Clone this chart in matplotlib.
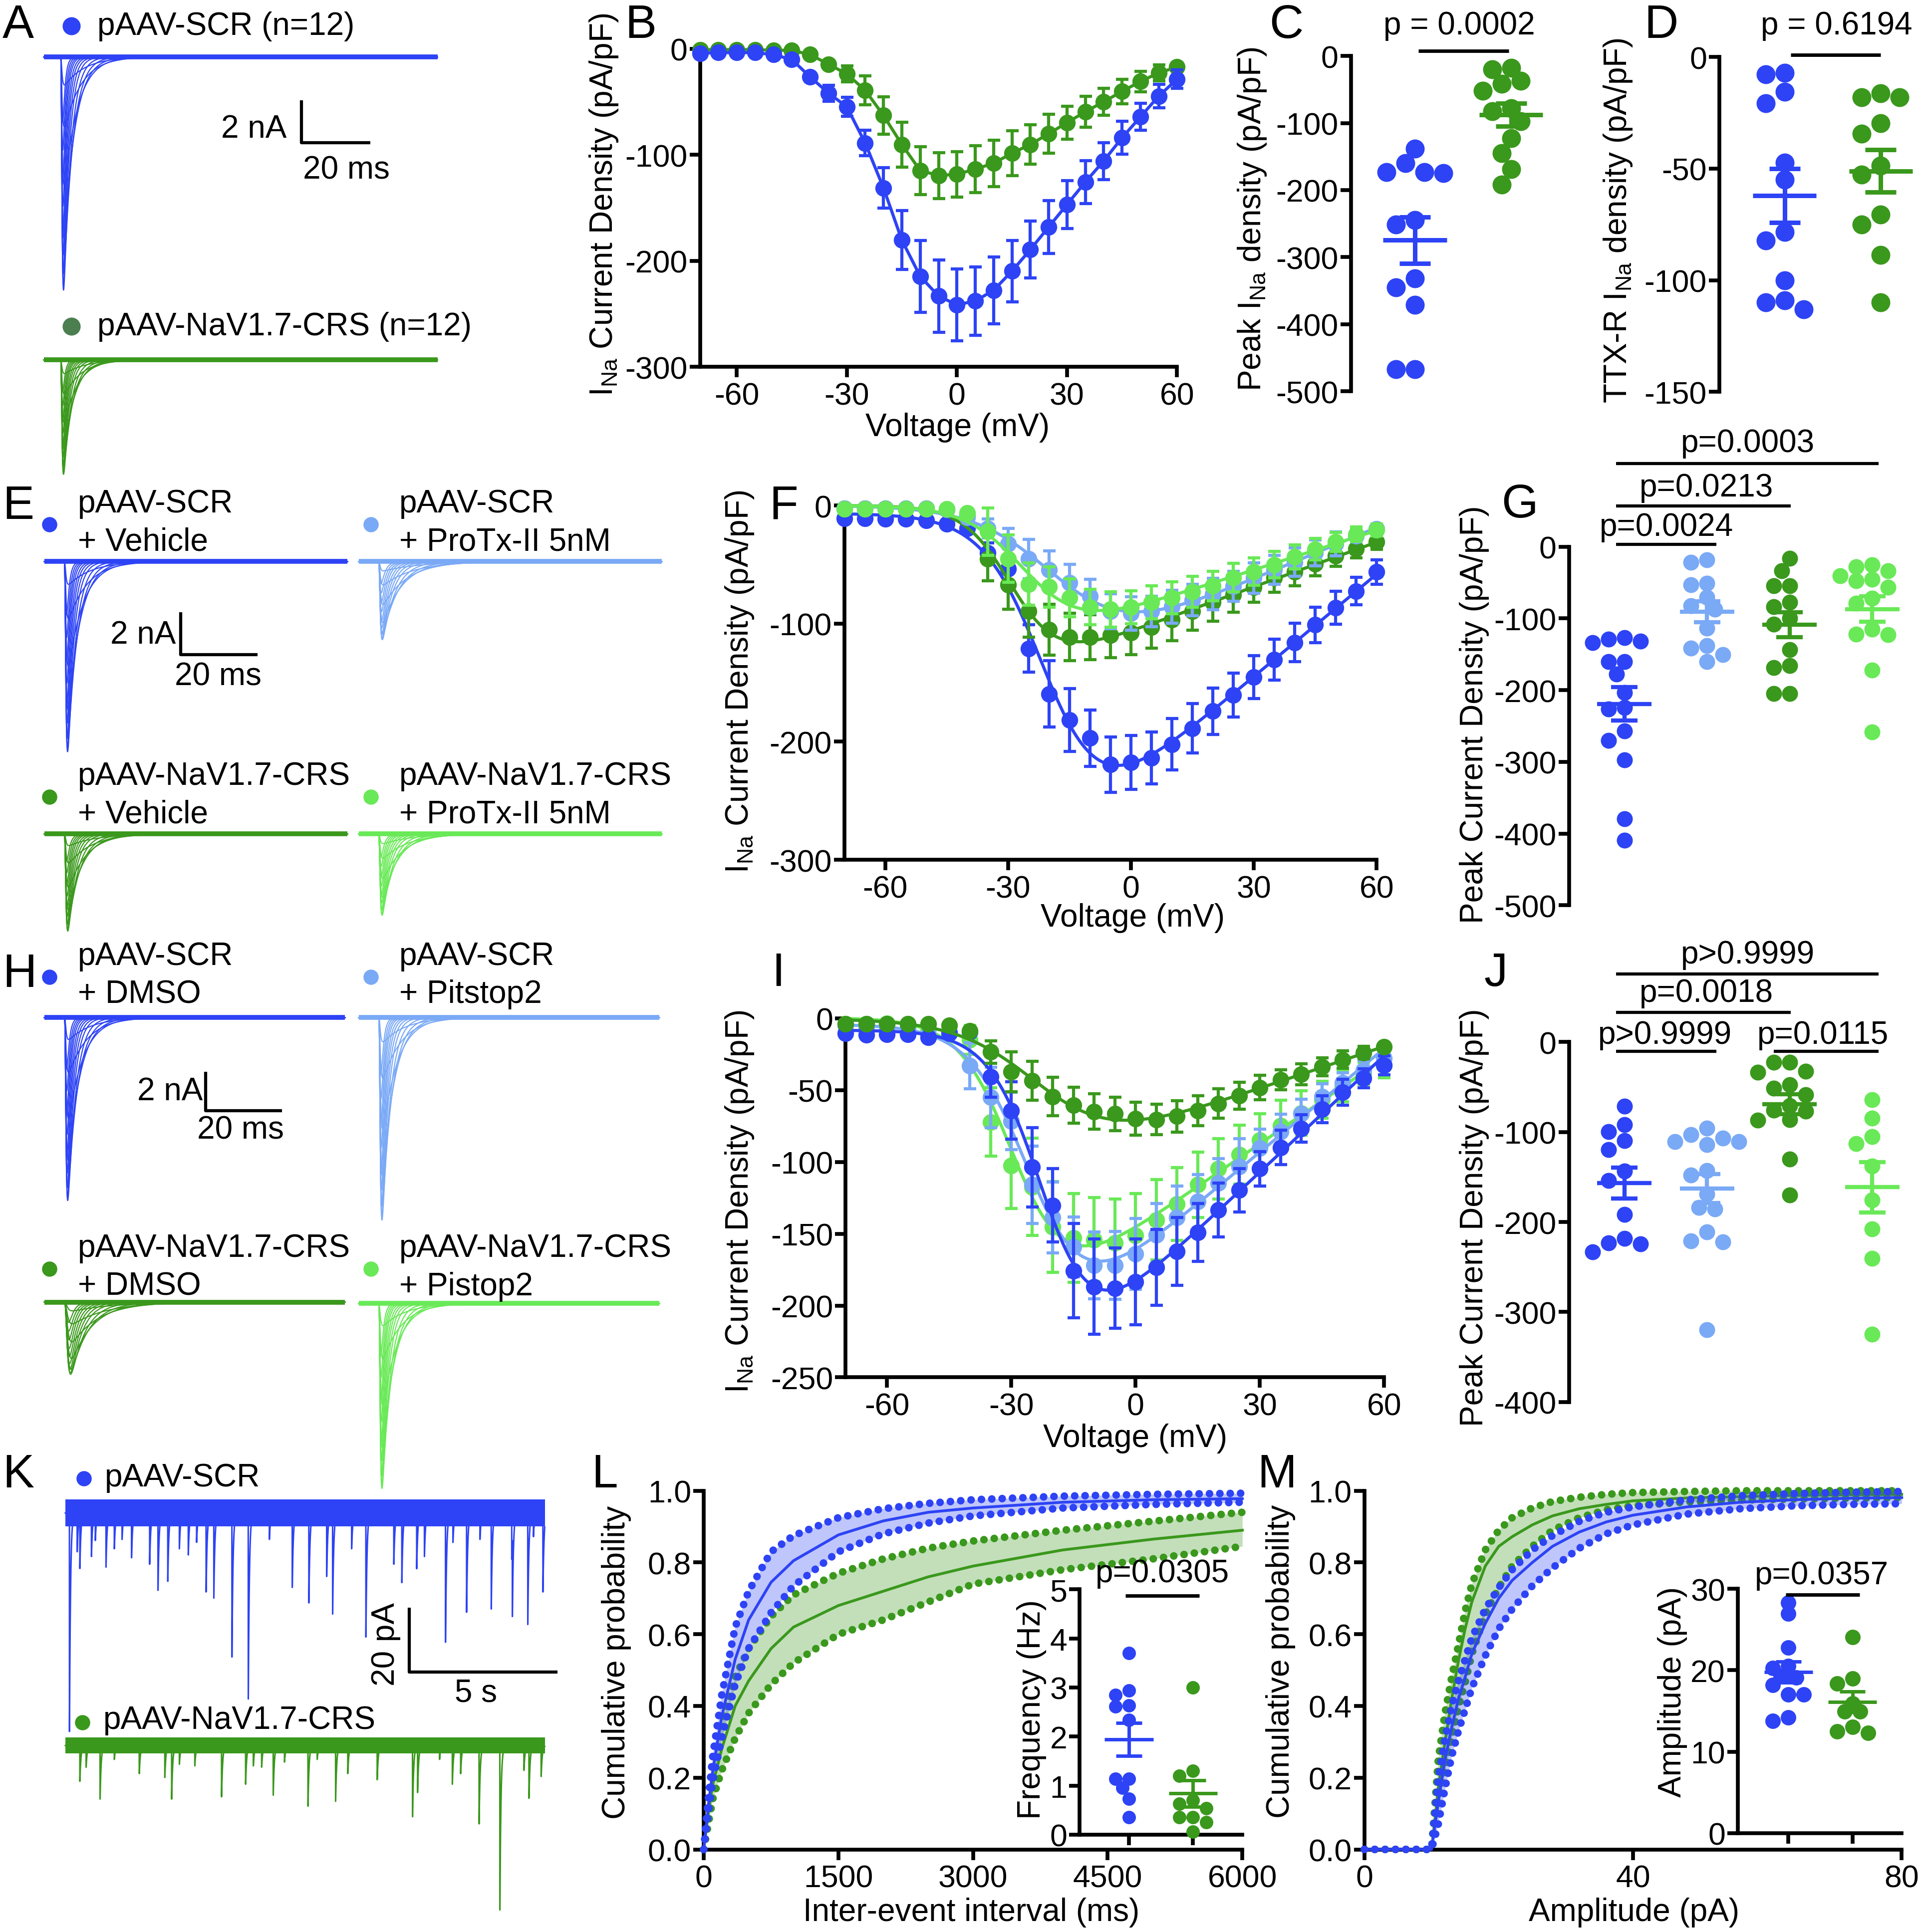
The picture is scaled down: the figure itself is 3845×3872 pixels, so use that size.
import numpy as np
import matplotlib
matplotlib.use("Agg")
import matplotlib.pyplot as plt
from matplotlib.lines import Line2D

plt.rcParams['font.family'] = ['Liberation Sans', 'DejaVu Sans']
plt.rcParams['mathtext.fontset'] = 'custom'
plt.rcParams['mathtext.rm'] = 'Liberation Sans'
plt.rcParams['mathtext.it'] = 'Liberation Sans:italic'
plt.rcParams['mathtext.bf'] = 'Liberation Sans:bold'
plt.rcParams['axes.unicode_minus'] = False

BLUE = '#2D43F5'
LBLUE = '#7AA9F6'
GREEN = '#3A981C'
LGREEN = '#69E957'
DOTGREEN_A = '#4B7F50'

# ======================= DATA =======================
VOLT = [-70, -65, -60, -55, -50, -45, -40, -35, -30, -25, -20, -15, -10, -5,
        0, 5, 10, 15, 20, 25, 30, 35, 40, 45, 50, 55, 60]

# Panel B (pA/pF)
B_SCR = [-4.1, -3.6, -3.6, -3.6, -5.5, -10.1, -26.5, -41.8, -54.7, -88.9, -131.3, -180.5, -214.7, -233.3,
         -241.5, -238, -227.8, -209.8, -189.5, -168.2, -146.9, -125.8, -105.8, -84, -64.3, -44.6, -28.7]
B_SCR_SEM = [1, 1, 1, 1, 1, 1.5, 3, 7.5, 9, 11.9, 19.1, 27.8, 33.8, 34.2,
             33.9, 32.1, 31.5, 29.1, 26.9, 24.9, 22.6, 20.2, 17.4, 15.5, 12.7, 10.9, 8.8]
B_CRS = [-0.8, -0.8, -0.8, -0.8, -1.4, -1.4, -5.5, -14.5, -23.8, -39.1, -62.9, -90.3, -114.9, -119.5,
         -118.4, -113.5, -108, -98.5, -90.3, -80.1, -69.7, -59.4, -50, -40.2, -30.9, -22.7, -17.2]
B_CRS_SEM = [0.5, 0.5, 0.5, 0.5, 0.5, 0.5, 1.5, 3, 7.5, 13.7, 17.5, 21.2, 22.7, 21.6,
             21.3, 22.2, 21.9, 21, 18.6, 18.5, 15.7, 14.8, 12.7, 11.6, 9.8, 7.5, 4]

# Panel C / D (pA/pF)
C_SCR = [-138.5, -160, -173, -175, -173, -245, -251, -332, -345, -371, -467, -467]
C_CRS = [-19.7, -17.5, -37, -41.5, -51.7, -78, -82.5, -97.5, -123, -145, -169, -191.5]
D_SCR = [-7.9, -7.1, -15.6, -20.8, -47.4, -54.9, -78.5, -82.3, -100, -109, -109.9, -113]
D_CRS = [-18.1, -18.1, -16.3, -29.7, -34.4, -48.7, -52.8, -70.5, -75, -88.8, -109.9]

# Panel F (pA/pF)
F_SCR_VEH = [-11, -11, -11.5, -11.5, -12.8, -15.4, -19.2, -40.2, -53.8, -121, -159.5, -181.8, -197, -219.4,
             -217.6, -213.8, -202.2, -188.7, -174.1, -160.5, -145.2, -130.6, -116, -101.1, -86.5, -72.4, -56.3]
F_SCR_VEH_SEM = [2, 2, 2, 2, 2, 2, 2.5, 8.7, 9.9, 20, 28, 26.6, 24, 23.4,
                 22.9, 22, 21.8, 20.9, 19.7, 18.6, 18.2, 17.3, 16.3, 15, 14, 11.5, 10.4]
F_SCR_PTX = [-2.6, -2.6, -2.6, -2.6, -2.6, -3.3, -10.2, -19.2, -32.5, -45.3, -54.5, -65.3, -76.8, -89.6,
             -91.4, -89.6, -85.8, -80.1, -75, -68.4, -61.4, -54.5, -47.9, -40.2, -32.5, -25.6, -19.7]
F_SCR_PTX_SEM = [1.5, 1.5, 1.5, 1.5, 1.5, 1.5, 3, 8, 13, 16.6, 16, 15.6, 14.3, 14.7,
                 14, 12.8, 14, 13.4, 13.4, 12.8, 12.8, 12.2, 12, 11, 10, 5, 3]
F_CRS_VEH = [-2.6, -2.6, -2.6, -2.6, -2.6, -3.3, -7.7, -45.3, -67.3, -89.6, -105, -111.4, -111.4, -110,
             -107.5, -103.2, -96.5, -89.6, -81.9, -75.5, -69.1, -61.4, -56.3, -49.4, -42.8, -36.6, -30.7]
F_CRS_VEH_SEM = [1.5, 1.5, 1.5, 1.5, 1.5, 1.5, 3, 18.6, 20.5, 21.8, 21.5, 20, 19, 19,
                 18.8, 17.7, 18, 16, 16, 14.7, 12.8, 12.2, 11.5, 10.2, 8.7, 7.7, 6.4]
F_CRS_PTX = [-3, -3, -3, -3, -3, -3, -6.4, -22, -45, -66.6, -69, -78, -86, -88,
             -86, -82, -78, -73, -68, -61, -56, -50, -43.5, -37, -30.7, -24.3, -20.5]
F_CRS_PTX_SEM = [1.5, 1.5, 1.5, 1.5, 1.5, 1.5, 3, 20, 20, 18, 17, 16, 15, 15,
                 14, 14, 13.5, 13, 12.5, 12, 11.5, 11, 10, 9, 8, 6, 5]

# Panel G (pA/pF)
G_SCR_VEH = [-132, -128.8, -126.5, -133.5, -160.5, -160.5, -177.7, -203.2, -224.2, -226.5, -256.7,
             -269.8, -297.2, -379, -409.3]
G_SCR_PTX = [-21.9, -18.6, -53, -51.2, -70.7, -82.3, -87, -113.5, -138.1, -141.4, -150.7, -160.5]
G_CRS_VEH = [-16.3, -33.5, -54.4, -54.4, -77.7, -83.7, -99.5, -107.9, -143.7, -168.4, -166, -204.6, -204.6]
G_CRS_PTX = [-27.9, -40.5, -33.5, -25.1, -45.1, -56.7, -47.4, -71.6, -79.1, -114.9, -122.8, -121.9,
             -172.1, -258.1]

# Panel I (pA/pF)
I_SCR_DMSO = [-10.6, -11.7, -11.1, -11.1, -13.3, -10.6, -9.5, -40.6, -64.3, -103.7, -130.3, -175.7, -186.8,
              -187.9, -183.5, -173.5, -162.4, -149.1, -133.6, -119.7, -104.8, -90, -76.7, -63.4, -51.6, -41.7,
              -32.8]
I_SCR_DMSO_SEM = [2, 2, 2, 2, 2, 2, 2, 14.4, 20, 27.7, 25.5, 32.7, 33.2, 28,
                  29.9, 26.4, 23.6, 20.2, 18.8, 15, 11.9, 12, 9.6, 9.3, 9, 6.6, 6.6]
I_SCR_PIT = [-5.1, -6.2, -7.3, -7.3, -11.7, -9.5, -33.2, -55, -71.6, -115.9, -138.7, -159.1, -172, -172,
             -164, -150.7, -138.7, -127.6, -114.8, -103.3, -90.4, -78.9, -66.5, -54.5, -45, -36.1, -27.9]
I_SCR_PIT_SEM = [2, 2, 2, 2, 2, 2, 16, 21, 20, 27, 24.6, 20.8, 23.3, 23.6,
                 24.6, 21.6, 22, 18.8, 17.2, 19.4, 13.3, 12.2, 10.2, 8.9, 7.2, 6.4, 5.9]
I_CRS_DMSO = [-4, -4, -4, -4, -4, -5.1, -8.9, -23.5, -37.2, -43.4, -54.5, -60.5, -64.9, -66.5,
              -70, -70.5, -68.3, -64.3, -59.4, -53.8, -48.3, -42.8, -39, -33.9, -28.8, -23.9, -19.9]
I_CRS_DMSO_SEM = [1.5, 1.5, 1.5, 1.5, 1.5, 1.5, 1.5, 7.8, 13.8, 13.6, 13.3, 12.6, 12.4, 11.6,
                  11.4, 10.6, 10.9, 10.5, 10.2, 9.4, 8.5, 7, 7.2, 6.3, 6.1, 4.4, 2.8]
I_CRS_PIT = [-4, -4, -3.5, -4, -7.3, -10.6, -15.1, -72.2, -102.6, -117.4, -145.4, -152.9, -154.2, -156.5,
             -151.3, -140.3, -129.2, -115.9, -104.8, -94.8, -84.9, -74.9, -66, -56.7, -47.2, -38.3, -32.8]
I_CRS_PIT_SEM = [2, 2, 2, 2, 2, 2, 10, 23.8, 29.7, 33.8, 31.6, 31, 29.4, 30.7,
                 29.4, 27.9, 25.3, 22.7, 21, 20.5, 18.6, 17.7, 15.5, 12.7, 11, 7.8, 8.5]

# Panel J (pA/pF)
J_SCR_DMSO = [-71.6, -92, -99.5, -109.5, -119.9, -143.2, -154, -191.5, -218.2, -223, -224.5, -233]
J_SCR_PIT = [-95.7, -103.2, -110.6, -110.6, -106.9, -114.3, -142.9, -147.7, -168.8, -183.7, -185.6,
             -210.8, -220.8, -221.9, -319.5]
J_CRS_DMSO = [-22.6, -22.6, -33.8, -32.7, -47.5, -51.2, -58.6, -76.1, -70.9, -77.2, -86.5, -87.2,
              -130.3, -170]
J_CRS_PIT = [-64.2, -84.6, -105, -113.2, -137.7, -175.5, -207.8, -240.5, -324.7]

# Example current families (A, E, H): relative sweep amplitudes and inactivation taus (ms)
SWEEP_REL = [0.12, 0.3, 0.55, 0.78, 0.93, 1.0, 0.98, 0.93, 0.85, 0.75, 0.64, 0.52, 0.4, 0.28]
SWEEP_TAU = [6.0, 5.0, 4.0, 3.2, 2.6, 2.1, 1.7, 1.45, 1.25, 1.1, 0.95, 0.85, 0.75, 0.65]
PEAK_A = [11.0, 5.4]                 # nA: SCR, NaV1.7-CRS
PEAK_E = [9.0, 3.7, 4.6, 3.85]       # nA: SCR+Veh, SCR+ProTx, CRS+Veh, CRS+ProTx
TAUSCALE_E = [1.0, 1.6, 1.2, 1.3]
PEAK_H = [9.4, 10.4, 3.7, 9.5]       # nA: SCR+DMSO, SCR+Pitstop2, CRS+DMSO, CRS+Pistop2
TAUSCALE_H = [1.0, 1.0, 1.8, 1.0]
TAUM_H = [0.25, 0.25, 0.5, 0.25]

# Panel K: sEPSC events (time s, amplitude pA)
K_SCR_T = [0.14, 0.40, 0.49, 0.88, 1.01, 1.37, 1.65, 1.91, 2.23, 2.84, 3.12, 3.45, 3.84, 4.14, 4.42, 4.74,
           5.00, 5.61, 6.16, 6.87, 7.64, 8.20, 8.80, 9.00, 9.64, 10.12, 11.06, 11.33, 11.83, 12.09, 12.80,
           13.05, 13.51, 13.96, 14.34, 15.03, 15.05, 15.57, 15.76, 16.08]
K_SCR_A = [67.8, 12, 16.3, 13.5, 8.2, 16.8, 11.1, 8.2, 13.9, 15.9, 24, 21.2, 11.1, 13, 9.1, 24.5,
           26.4, 44.7, 57.7, 8.2, 23.1, 27.9, 19.7, 31.3, 11.1, 38.5, 15.9, 21.6, 17.3, 13.5, 40.1,
           9.1, 30.8, 8.2, 29.8, 14.4, 24, 34.6, 7.2, 24.5]
K_CRS_T = [0.49, 0.70, 1.17, 1.65, 2.49, 3.35, 3.58, 3.84, 4.36, 5.26, 6.07, 6.33, 6.61, 7.00, 7.38,
           8.17, 8.48, 9.10, 9.51, 10.50, 11.69, 11.86, 12.60, 13.03, 13.31, 13.93, 14.63, 15.44, 15.61, 16.02]
K_CRS_A = [11.1, 6.7, 16.6, 4.3, 8.7, 9.9, 16.6, 5.8, 6.3, 15.9, 12, 6.3, 6.7, 15.4, 5.1,
           18.8, 4.3, 17.3, 8.7, 10.6, 22.1, 14.4, 4.3, 12, 8.7, 24.3, 51, 7.7, 16.3, 9.6]

# Panel L: cumulative probability of inter-event interval (ms)
L_X = [0, 50, 100, 200, 350, 500, 750, 1000, 1500, 2000, 2500, 3000, 4000, 5000, 6000]
L_SCR_MEAN = [0, 0.12, 0.22, 0.37, 0.53, 0.64, 0.745, 0.805, 0.877, 0.916, 0.94, 0.952, 0.968, 0.975, 0.978]
L_SCR_HI = [0, 0.14, 0.26, 0.43, 0.62, 0.72, 0.83, 0.875, 0.925, 0.95, 0.965, 0.975, 0.985, 0.99, 0.993]
L_SCR_LO = [0, 0.10, 0.19, 0.31, 0.46, 0.56, 0.66, 0.735, 0.83, 0.88, 0.91, 0.93, 0.952, 0.962, 0.968]
L_CRS_MEAN = [0, 0.10, 0.18, 0.28, 0.40, 0.47, 0.56, 0.62, 0.68, 0.72, 0.76, 0.79, 0.835, 0.865, 0.89]
L_CRS_HI = [0, 0.12, 0.22, 0.35, 0.48, 0.56, 0.65, 0.71, 0.77, 0.81, 0.84, 0.86, 0.89, 0.915, 0.94]
L_CRS_LO = [0, 0.07, 0.14, 0.22, 0.31, 0.38, 0.46, 0.52, 0.60, 0.64, 0.69, 0.74, 0.78, 0.81, 0.845]
FREQ_SCR = [3.70, 2.85, 2.94, 2.61, 2.63, 2.34, 1.14, 1.14, 0.95, 0.73, 0.35]
FREQ_CRS = [3.0, 1.30, 1.2, 0.70, 0.63, 0.54, 0.35, 0.35, 0.25, 0.06]

# Panel M: cumulative probability of amplitude (pA)
M_X = [0, 10, 11, 12, 13, 14, 15, 16, 18, 20, 22, 25, 28, 32, 36, 40, 48, 56, 64, 72, 80]
M_SCR_MEAN = [0, 0, 0.13, 0.25, 0.34, 0.42, 0.48, 0.545, 0.63, 0.70, 0.75, 0.80, 0.845, 0.885, 0.913,
              0.932, 0.955, 0.968, 0.975, 0.979, 0.981]
M_SCR_HI = [0, 0, 0.20, 0.31, 0.40, 0.47, 0.53, 0.59, 0.67, 0.73, 0.78, 0.835, 0.875, 0.915, 0.94,
            0.955, 0.975, 0.986, 0.992, 0.996, 0.998]
M_SCR_LO = [0, 0, 0.07, 0.17, 0.26, 0.33, 0.39, 0.45, 0.54, 0.615, 0.67, 0.735, 0.785, 0.84, 0.88,
            0.905, 0.935, 0.95, 0.958, 0.962, 0.964]
M_CRS_MEAN = [0, 0, 0.17, 0.30, 0.42, 0.525, 0.615, 0.69, 0.79, 0.845, 0.872, 0.905, 0.93, 0.95, 0.962,
              0.972, 0.98, 0.984, 0.987, 0.989, 0.99]
M_CRS_HI = [0, 0, 0.25, 0.38, 0.48, 0.57, 0.665, 0.74, 0.835, 0.89, 0.925, 0.952, 0.97, 0.982, 0.99,
            0.995, 0.998, 1.0, 1.0, 1.0, 1.0]
M_CRS_LO = [0, 0, 0.12, 0.22, 0.31, 0.395, 0.465, 0.545, 0.655, 0.73, 0.79, 0.845, 0.89, 0.925, 0.947,
            0.958, 0.969, 0.974, 0.977, 0.979, 0.981]
AMP_SCR = [28.3, 26.95, 22.8, 20.3, 20.5, 19.3, 19.1, 18.2, 17.05, 17.05, 13.8, 14.2]
AMP_CRS = [24.1, 18.4, 18.96, 15.9, 14.96, 14.96, 13.06, 12.3, 12.5]

# ======================= LAYOUT HELPERS =======================
RW, RH = 1557.0, 1568.0
FS = 46      # text
FT = 45      # tick labels
FL = 68      # panel letters
LWA = 5.5    # axis line width

fig = plt.figure(figsize=(38.45, 38.73), dpi=100)
fig.patch.set_facecolor('white')


def X(x):
    return x / RW


def Y(y):
    return 1.0 - y / RH


def box(x0, y0, x1, y1):
    ax = fig.add_axes([X(x0), Y(y1), (x1 - x0) / RW, (y1 - y0) / RH])
    ax.patch.set_visible(False)
    return ax


def ftext(x, y, s, size=FS, ha='center', va='center', **kw):
    fig.text(X(x), Y(y), s, fontsize=size, ha=ha, va=va, **kw)


def fline(xs, ys, lw=4.5, color='black'):
    fig.add_artist(Line2D([X(v) for v in xs], [Y(v) for v in ys], transform=fig.transFigure,
                          color=color, lw=lw, solid_capstyle='butt'))


def fdot(x, y, color, ms=24):
    fig.add_artist(Line2D([X(x)], [Y(y)], transform=fig.transFigure, marker='o', ms=ms,
                          color=color, mec='none', ls='none'))


def style_ax(ax, bottom=True):
    for s in ('top', 'right'):
        ax.spines[s].set_visible(False)
    for s in ('left', 'bottom'):
        ax.spines[s].set_linewidth(LWA)
        ax.spines[s].set_capstyle('projecting')
    ax.tick_params(axis='both', direction='out', length=15, width=LWA, labelsize=FT, color='black')
    ax.tick_params(axis='y', pad=3)
    ax.tick_params(axis='x', pad=6)
    if not bottom:
        ax.spines['bottom'].set_visible(False)
        ax.tick_params(axis='x', bottom=False, labelbottom=False)


def iv_fit(v, i):
    v = np.asarray(v, float)
    i = np.asarray(i, float)
    best = None
    for v50 in np.arange(-50.0, 0.01, 0.5):
        for k in np.arange(2.0, 15.01, 0.25):
            s = 1.0 / (1.0 + np.exp((v50 - v) / k))
            A = np.column_stack([v * s, s, np.ones_like(v)])
            coef = np.linalg.lstsq(A, i, rcond=None)[0]
            r = np.sum((A @ coef - i) ** 2)
            if best is None or r < best[0]:
                best = (r, v50, k, coef)
    _, v50, k, coef = best
    vv = np.linspace(v.min(), v.max(), 400)
    s = 1.0 / (1.0 + np.exp((v50 - vv) / k))
    return vv, coef[0] * vv * s + coef[1] * s + coef[2]


def iv_series(ax, y, e, color, fit, z):
    if fit:
        vv, ff = iv_fit(VOLT, y)
        ax.plot(vv, ff, color=color, lw=4.5, zorder=z, clip_on=False)
        fmt = 'o'
    else:
        fmt = '-o'
    eb = ax.errorbar(VOLT, y, yerr=e, fmt=fmt, color=color, ms=24, mec='none', lw=4.5,
                     elinewidth=4.5, capsize=9, capthick=4.5, zorder=z)
    for art in eb.get_children():
        art.set_clip_on(False)


def swarm(ax, xc, vals, d, tol=0.85):
    vals = np.asarray(vals, float)
    pts = ax.transData.transform(np.column_stack([np.full(len(vals), float(xc)), vals]))
    cx = pts[0, 0]
    ys = pts[:, 1]
    order = np.argsort(-ys)
    cand = [0.0]
    for k in range(1, 40):
        cand += [-k * d / 2.0, k * d / 2.0]
    placed = []
    xs = np.empty(len(vals))
    for idx in order:
        chosen = 0.0
        for off in cand:
            if all((off - px) ** 2 + (ys[idx] - py) ** 2 >= (tol * d) ** 2 for px, py in placed):
                chosen = off
                break
        placed.append((chosen, ys[idx]))
        xs[idx] = cx + chosen
    inv = ax.transData.inverted()
    return inv.transform(np.column_stack([xs, ys]))[:, 0]


def dot_group(ax, xc, vals, color, d_px, mean_hw=0.33, cap_hw=0.16, lw=6, tol=0.85):
    vals = np.asarray(vals, float)
    xs = swarm(ax, xc, vals, d_px, tol)
    ax.scatter(xs, vals, s=(d_px * 0.72) ** 2, color=color, linewidths=0, zorder=3, clip_on=False)
    m = vals.mean()
    se = vals.std(ddof=1) / np.sqrt(len(vals))
    kw = dict(color=color, lw=lw, solid_capstyle='butt', zorder=4, clip_on=False)
    ax.plot([xc - mean_hw, xc + mean_hw], [m, m], **kw)
    ax.plot([xc, xc], [m - se, m + se], **kw)
    ax.plot([xc - cap_hw, xc + cap_hw], [m + se, m + se], **kw)
    ax.plot([xc - cap_hw, xc + cap_hw], [m - se, m - se], **kw)


def trace_ax(x0, x1, y_base, y_top, y_bot, px_per_t, px_per_a):
    ax = box(x0, y_top, x1, y_bot)
    ax.set_xlim(0, (x1 - x0) / px_per_t)
    ax.set_ylim(-(y_bot - y_base) / px_per_a, (y_base - y_top) / px_per_a)
    ax.axis('off')
    return ax


def na_family(ax, onset, peak, tau_scale, tau_m, color):
    tmax = ax.get_xlim()[1]
    t = np.linspace(0, tmax, 5000)
    tt = np.clip(t - onset, 0, None)
    for r, th in zip(SWEEP_REL, SWEEP_TAU):
        shape = (1 - np.exp(-tt / tau_m)) ** 3 * np.exp(-tt / (th * tau_scale))
        shape = shape / shape.max()
        ax.plot(t, -peak * r * shape, color=color, lw=1.6, clip_on=False)
    ax.plot([0, tmax], [0, 0], color=color, lw=7, solid_capstyle='butt', clip_on=False)


def event_trace(ax, times, amps, noise, color, tau=0.035):
    tmax = ax.get_xlim()[1]
    t = np.arange(0, tmax, 0.002)
    y = np.zeros_like(t)
    for ti, a in zip(times, amps):
        d = t - ti
        m = d >= 0
        y[m] -= a * np.exp(-d[m] / tau)
    ax.fill_between([0, tmax], [-noise, -noise], [noise, noise], color=color, lw=0)
    ax.plot(t, y, color=color, lw=2.2, clip_on=False)


def cdf_group(ax, x, lo, mid, hi, color, z):
    ax.fill_between(x, lo, hi, color=color, alpha=0.3, lw=0, zorder=z)
    ax.plot(x, mid, color=color, lw=4, zorder=z + 0.1, clip_on=False)
    for b in (lo, hi):
        ax.plot(x, b, color=color, lw=11, ls=(0, (0.01, 1.35)), dash_capstyle='round',
                zorder=z + 0.2, clip_on=False)


# ======================= PANEL LETTERS =======================
for s, x, y in [('A', 2, 21), ('B', 507, 21), ('C', 1030, 21), ('D', 1334, 21),
                ('E', 2, 411), ('F', 624, 411), ('G', 1218, 410),
                ('H', 2, 791), ('I', 626, 790), ('J', 1204, 790),
                ('K', 2, 1197), ('L', 480, 1197), ('M', 1020, 1197)]:
    ftext(x, y, s, size=FL, ha='left')

# ======================= PANEL A =======================
axA1 = trace_ax(35.6, 355, 46.6, 36, 242, 55.8 / 20, 34.4 / 2)
na_family(axA1, 4.9, PEAK_A[0], 1.0, 0.25, BLUE)
axA2 = trace_ax(35.6, 355, 292.4, 282, 392, 55.8 / 20, 34.4 / 2)
na_family(axA2, 4.9, PEAK_A[1], 1.0, 0.25, GREEN)
fdot(58, 21.5, BLUE, 26)
ftext(79, 21.5, 'pAAV-SCR (n=12)', ha='left')
fdot(58, 265, DOTGREEN_A, 26)
ftext(79, 265, 'pAAV-NaV1.7-CRS (n=12)', ha='left')
fline([244.5, 244.5, 300.3], [81.8, 116.2, 116.2])
ftext(232.5, 105, '2 nA', ha='right')
ftext(281, 138.3, '20 ms')

# ======================= PANEL E =======================
pxt_E, pxa_E = 62.6 / 20, 34.3 / 2
axE = [trace_ax(36, 282, 456, 446, 616, pxt_E, pxa_E),
       trace_ax(291, 537, 456, 446, 526, pxt_E, pxa_E),
       trace_ax(36, 282, 677, 667, 760, pxt_E, pxa_E),
       trace_ax(291, 537, 677, 667, 750, pxt_E, pxa_E)]
for ax, pk, ts, col in zip(axE, PEAK_E, TAUSCALE_E, [BLUE, LBLUE, GREEN, LGREEN]):
    na_family(ax, 5.2, pk, ts, 0.25, col)
for (dx, dy, col, l1, l2) in [(40, 426, BLUE, 'pAAV-SCR', '+ Vehicle'),
                               (301, 426, LBLUE, 'pAAV-SCR', '+ ProTx-II 5nM'),
                               (40, 647, GREEN, 'pAAV-NaV1.7-CRS', '+ Vehicle'),
                               (301, 647, LGREEN, 'pAAV-NaV1.7-CRS', '+ ProTx-II 5nM')]:
    fdot(dx, dy, col, 22)
    ftext(dx + 23, dy - 17, l1, ha='left')
    ftext(dx + 23, dy + 14, l2, ha='left')
fline([146.4, 146.4, 209], [497.3, 531.6, 531.6])
ftext(142.8, 515.5, '2 nA', ha='right')
ftext(177, 549, '20 ms')

# ======================= PANEL H =======================
pxt_H, pxa_H = 61.9 / 20, 31.6 / 2
axH = [trace_ax(36, 280, 826, 816, 980, pxt_H, pxa_H),
       trace_ax(291, 535, 826, 816, 995, pxt_H, pxa_H),
       trace_ax(36, 280, 1057, 1047, 1122, pxt_H, pxa_H),
       trace_ax(291, 535, 1058, 1048, 1212, pxt_H, pxa_H)]
for ax, pk, ts, tm, col in zip(axH, PEAK_H, TAUSCALE_H, TAUM_H, [BLUE, LBLUE, GREEN, LGREEN]):
    na_family(ax, 5.3, pk, ts, tm, col)
for (dx, dy, col, l1, l2) in [(40, 793, BLUE, 'pAAV-SCR', '+ DMSO'),
                               (301, 793, LBLUE, 'pAAV-SCR', '+ Pitstop2'),
                               (40, 1030, GREEN, 'pAAV-NaV1.7-CRS', '+ DMSO'),
                               (301, 1030, LGREEN, 'pAAV-NaV1.7-CRS', '+ Pistop2')]:
    fdot(dx, dy, col, 22)
    ftext(dx + 23, dy - 17, l1, ha='left')
    ftext(dx + 23, dy + 14, l2, ha='left')
fline([167, 167, 228.9], [870, 901.6, 901.6])
ftext(164.5, 886, '2 nA', ha='right')
ftext(195, 917, '20 ms')

# ======================= PANEL K =======================
axK1 = trace_ax(53, 442, 1228, 1205, 1410, 24.1, 2.615)
event_trace(axK1, K_SCR_T, K_SCR_A, 4.2, BLUE)
axK2 = trace_ax(53, 442, 1416.7, 1400, 1555, 24.1, 2.615)
event_trace(axK2, K_CRS_T, K_CRS_A, 2.5, GREEN)
fdot(68, 1200, BLUE, 22)
ftext(85, 1199, 'pAAV-SCR', ha='left')
fdot(67, 1398, GREEN, 22)
ftext(84, 1396, 'pAAV-NaV1.7-CRS', ha='left')
fline([332, 332, 452.5], [1304.9, 1357.2, 1357.2])
ftext(313, 1334, '20 pA', rotation=90)
ftext(386, 1374, '5 s')

# ======================= PANEL B =======================
axB = box(568, 40, 955, 298)
style_ax(axB)
axB.set_xlim(-70, 60)
axB.set_ylim(-300, 0)
iv_series(axB, B_CRS, B_CRS_SEM, GREEN, False, 3)
iv_series(axB, B_SCR, B_SCR_SEM, BLUE, False, 4)
axB.set_xticks([-60, -30, 0, 30, 60])
axB.set_yticks([0, -100, -200, -300])
ftext(490, 166, r'I$_{\rm Na}$ Current Density (pA/pF)', rotation=90)
ftext(777, 347, 'Voltage (mV)')

# ======================= PANEL C =======================
axC = box(1096, 45.8, 1290, 317.9)
style_ax(axC, bottom=False)
axC.set_ylim(-500, 0)
axC.set_xlim(-0.667, 1.82)
axC.set_yticks([0, -100, -200, -300, -400, -500])
dot_group(axC, 0, C_SCR, BLUE, 38, lw=6.5)
dot_group(axC, 1, C_CRS, GREEN, 38, lw=6.5)
fline([1151, 1224], [41.9, 41.9], lw=5)
ftext(1184, 21, 'p = 0.0002')
ftext(1016, 178, r'Peak I$_{\rm Na}$ density (pA/pF)', rotation=90)

# ======================= PANEL D =======================
axD = box(1395, 46.6, 1557, 318.3)
style_ax(axD, bottom=False)
axD.set_ylim(-150, 0)
axD.set_xlim(-0.68, 1.40)
axD.set_yticks([0, -50, -100, -150])
dot_group(axD, 0, D_SCR, BLUE, 38, lw=6.5)
dot_group(axD, 1, D_CRS, GREEN, 38, lw=6.5)
fline([1453, 1526], [45, 45], lw=5)
ftext(1490, 21, 'p = 0.6194')
ftext(1313, 179, r'TTX-R I$_{\rm Na}$ density (pA/pF)', rotation=90)

# ======================= PANEL F =======================
axF = box(685, 410.6, 1117, 698)
style_ax(axF)
axF.set_xlim(-70, 60)
axF.set_ylim(-300, 0)
iv_series(axF, F_SCR_VEH, F_SCR_VEH_SEM, BLUE, True, 3)
iv_series(axF, F_CRS_VEH, F_CRS_VEH_SEM, GREEN, True, 4)
iv_series(axF, F_SCR_PTX, F_SCR_PTX_SEM, LBLUE, True, 5)
iv_series(axF, F_CRS_PTX, F_CRS_PTX_SEM, LGREEN, True, 6)
axF.set_xticks([-60, -30, 0, 30, 60])
axF.set_yticks([0, -100, -200, -300])
ftext(600, 553, r'I$_{\rm Na}$ Current Density (pA/pF)', rotation=90)
ftext(919, 745, 'Voltage (mV)')

# ======================= PANEL G =======================
axG = box(1273, 444, 1557, 735)
style_ax(axG, bottom=False)
axG.set_ylim(-500, 0)
axG.set_xlim(-0.672, 3.567)
axG.set_yticks([0, -100, -200, -300, -400, -500])
for i, (vals, col) in enumerate(zip([G_SCR_VEH, G_SCR_PTX, G_CRS_VEH, G_CRS_PTX],
                                    [BLUE, LBLUE, GREEN, LGREEN])):
    dot_group(axG, i, vals, col, 32)
fline([1311, 1392.6], [442, 442])
fline([1311, 1453], [411, 411])
fline([1311, 1524], [376.6, 376.6])
ftext(1352, 428, 'p=0.0024')
ftext(1384.6, 396, 'p=0.0213')
ftext(1418, 360, 'p=0.0003')
ftext(1196, 580, 'Peak Current Density (pA/pF)', rotation=90)

# ======================= PANEL I =======================
axI = box(686, 826.6, 1123, 1118)
style_ax(axI)
axI.set_xlim(-70, 60)
axI.set_ylim(-250, 0)
iv_series(axI, I_CRS_PIT, I_CRS_PIT_SEM, LGREEN, True, 3)
iv_series(axI, I_SCR_PIT, I_SCR_PIT_SEM, LBLUE, True, 4)
iv_series(axI, I_SCR_DMSO, I_SCR_DMSO_SEM, BLUE, True, 5)
iv_series(axI, I_CRS_DMSO, I_CRS_DMSO_SEM, GREEN, True, 6)
axI.set_xticks([-60, -30, 0, 30, 60])
axI.set_yticks([0, -50, -100, -150, -200, -250])
ftext(600, 975, r'I$_{\rm Na}$ Current Density (pA/pF)', rotation=90)
ftext(921, 1167, 'Voltage (mV)')

# ======================= PANEL J =======================
axJ = box(1273, 845.8, 1557, 1138)
style_ax(axJ, bottom=False)
axJ.set_ylim(-400, 0)
axJ.set_xlim(-0.672, 3.567)
axJ.set_yticks([0, -100, -200, -300, -400])
for i, (vals, col) in enumerate(zip([J_SCR_DMSO, J_SCR_PIT, J_CRS_DMSO, J_CRS_PIT],
                                    [BLUE, LBLUE, GREEN, LGREEN])):
    dot_group(axJ, i, vals, col, 32)
fline([1311, 1392.6], [853.5, 853.5])
fline([1439, 1524], [853.5, 853.5])
fline([1311, 1453], [822, 822])
fline([1311, 1524], [790.5, 790.5])
ftext(1351, 840, 'p>0.9999')
ftext(1479, 840, 'p=0.0115')
ftext(1384.6, 806, 'p=0.0018')
ftext(1418, 775, 'p>0.9999')
ftext(1196, 988, 'Peak Current Density (pA/pF)', rotation=90)

# ======================= PANEL L =======================
axL = box(571, 1210, 1008, 1501)
style_ax(axL)
axL.set_xlim(0, 6000)
axL.set_ylim(0, 1)
cdf_group(axL, L_X, L_CRS_LO, L_CRS_MEAN, L_CRS_HI, GREEN, 2)
cdf_group(axL, L_X, L_SCR_LO, L_SCR_MEAN, L_SCR_HI, BLUE, 3)
axL.set_xticks([0, 1500, 3000, 4500, 6000])
axL.set_yticks([0, 0.2, 0.4, 0.6, 0.8, 1.0])
axL.set_yticklabels(['0.0', '0.2', '0.4', '0.6', '0.8', '1.0'])
ftext(500, 1349, 'Cumulative probability', rotation=90)
ftext(788, 1552, 'Inter-event interval (ms)')

axLi = box(876, 1290, 1008, 1489)
style_ax(axLi)
axLi.set_ylim(0, 5)
axLi.set_xlim(-0.77, 1.77)
axLi.set_xticks([0, 1])
axLi.set_xticklabels([])
axLi.set_yticks([0, 1, 2, 3, 4, 5])
dot_group(axLi, 0, FREQ_SCR, BLUE, 27, mean_hw=0.38, cap_hw=0.2, lw=5)
dot_group(axLi, 1, FREQ_CRS, GREEN, 27, mean_hw=0.38, cap_hw=0.2, lw=5)
fline([913, 973], [1295, 1295], lw=5)
ftext(943, 1277, 'p=0.0305')
ftext(837, 1387, 'Frequency (Hz)', rotation=90)

# ======================= PANEL M =======================
axM = box(1107, 1210, 1543, 1501)
style_ax(axM)
axM.set_xlim(0, 80)
axM.set_ylim(0, 1)
cdf_group(axM, M_X, M_CRS_LO, M_CRS_MEAN, M_CRS_HI, GREEN, 2)
cdf_group(axM, M_X, M_SCR_LO, M_SCR_MEAN, M_SCR_HI, BLUE, 3)
axM.set_xticks([0, 40, 80])
axM.set_yticks([0, 0.2, 0.4, 0.6, 0.8, 1.0])
axM.set_yticklabels(['0.0', '0.2', '0.4', '0.6', '0.8', '1.0'])
ftext(1039, 1348, 'Cumulative probability', rotation=90)
ftext(1326, 1552, 'Amplitude (pA)')

axMi = box(1410, 1289.6, 1543, 1487.7)
style_ax(axMi)
axMi.set_ylim(0, 30)
axMi.set_xlim(-0.79, 1.77)
axMi.set_xticks([0, 1])
axMi.set_xticklabels([])
axMi.set_yticks([0, 10, 20, 30])
dot_group(axMi, 0, AMP_SCR, BLUE, 31, mean_hw=0.38, cap_hw=0.2, lw=5, tol=0.7)
dot_group(axMi, 1, AMP_CRS, GREEN, 31, mean_hw=0.38, cap_hw=0.2, lw=5, tol=0.7)
fline([1449, 1509], [1294.3, 1294.3], lw=5)
ftext(1478, 1278.5, 'p=0.0357')
ftext(1357, 1373, 'Amplitude (pA)', rotation=90)

fig.savefig('out.png', dpi=100)
